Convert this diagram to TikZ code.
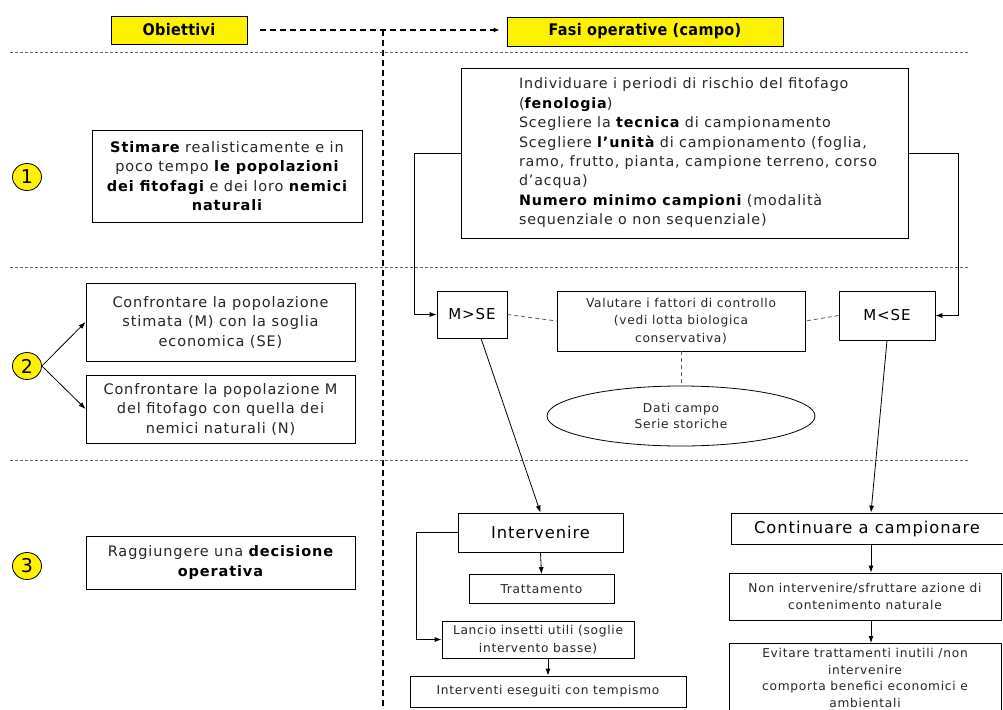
\documentclass[tikz,border=0pt]{standalone}
\usepackage{fontspec}
\setmainfont[LetterSpace=6]{DejaVu Sans}
\newfontfamily\headfont[LetterSpace=2]{DejaVu Sans Condensed}
\usetikzlibrary{arrows.meta,shapes.geometric,calc}
\newcommand{\bk}[1]{{\color{black}\bfseries #1}}
\begin{document}
\begin{tikzpicture}[x=1pt,y=-1pt,
  box/.style={draw=black, line width=0.8pt, rectangle, inner sep=0pt, align=center, text=black!85},
  lt/.style={font=\fontsize{14.5}{19.5}\selectfont},
  sm/.style={font=\fontsize{12.2}{17.5}\selectfont},
  big/.style={font=\fontsize{16.3}{19}\selectfont},
  hdr/.style={draw=black, line width=0.8pt, fill=yellow, inner sep=0pt, font=\headfont\bfseries\fontsize{16}{18}\selectfont},
  num/.style={draw=black, line width=0.8pt, fill=yellow, ellipse, minimum width=29pt, minimum height=27pt, inner sep=0pt, font=\fontsize{19}{20}\selectfont},
  sep/.style={draw=black!60, dash pattern=on 3pt off 2pt, line width=0.8pt},
  arr/.style={draw=black, line width=0.8pt, -{Latex[length=7pt,width=5pt]}},
  dline/.style={draw=black!65, dash pattern=on 4pt off 3pt, line width=0.8pt},
  bigdash/.style={draw=black, line width=1.3pt, dash pattern=on 6pt off 4pt},
]
\useasboundingbox (0,0) rectangle (1003,709);
\fill[white] (0,0) rectangle (1003,709);

% headers
\node[hdr, minimum width=136pt, minimum height=28pt] (obj) at (179,30) {Obiettivi};
\node[hdr, minimum width=276pt, minimum height=29pt] (fasi) at (645,31.5) {Fasi operative (campo)};
\coordinate (ha) at ([xshift=13pt]obj.east);
\coordinate (hb) at ($(obj.east -| fasi.west)+(-7,0)$);
\draw[bigdash, -{Latex[length=6pt,width=5pt]}] (ha) -- (hb);
\coordinate (vt) at (383,30);
\coordinate (vb) at (383,709);
\draw[bigdash] (vt) -- (vb);

% separators
\coordinate (s1a) at (10,52);  \coordinate (s1b) at (970,52);
\coordinate (s2a) at (10,267); \coordinate (s2b) at (970,267);
\coordinate (s3a) at (10,460); \coordinate (s3b) at (970,460);
\draw[sep] (s1a) -- (s1b);
\draw[sep] (s2a) -- (s2b);
\draw[sep] (s3a) -- (s3b);

% numbers
\node[num] (n1) at (27,177) {1};
\node[num] (n2) at (27,366) {2};
\node[num] (n3) at (27,566) {3};

% left column
\node[box, lt, minimum width=270pt, minimum height=92pt] (stim) at (227,176)
  {\bk{Stimare} realisticamente e in\\ poco tempo \bk{le popolazioni}\\ \bk{dei fitofagi} e dei loro \bk{nemici}\\ \bk{naturali}};
\node[box, lt, minimum width=269pt, minimum height=78pt] (conf1) at (220.5,322)
  {Confrontare la popolazione\\ stimata (M) con la soglia\\ economica (SE)};
\node[box, lt, minimum width=269pt, minimum height=68pt] (conf2) at (220.5,409)
  {Confrontare la popolazione M\\ del fitofago con quella dei\\ nemici naturali (N)};
\node[box, lt, minimum width=269pt, minimum height=53pt] (ragg) at (220.5,562.5)
  {Raggiungere una \bk{decisione}\\ \bk{operativa}};
\draw[arr] (n2.east) -- (conf1.west);
\draw[arr] (n2.east) -- (conf2.west);

% main box
\node[box, minimum width=447pt, minimum height=170pt, font=\fontsize{14.3}{19.4}\selectfont] (main) at (684.5,153)
  {\hspace*{42pt}\makebox[373pt][l]{\begin{tabular}{@{}l@{}}
  Individuare i periodi di rischio del fitofago\\
  (\bk{fenologia})\\
  Scegliere la \bk{tecnica} di campionamento\\
  Scegliere \bk{l’unità} di campionamento (foglia,\\
  ramo, frutto, pianta, campione terreno, corso\\
  d’acqua)\\
  \bk{Numero minimo campioni} (modalità\\
  sequenziale o non sequenziale)
  \end{tabular}}};

\node[box, font=\fontsize{15}{17}\selectfont, text=black, minimum width=70pt, minimum height=47pt] (mse1) at (472,314.5) {M>SE};
\node[box, font=\fontsize{15}{17}\selectfont, text=black, minimum width=96pt, minimum height=49pt] (mse2) at (887,315.5) {M<SE};
\node[box, sm, minimum width=248pt, minimum height=60pt] (val) at (681,321)
  {Valutare i fattori di controllo\\ (vedi lotta biologica\\ conservativa)};
\node[draw=black, line width=0.8pt, ellipse, minimum width=268pt, minimum height=60pt, inner sep=0pt, align=center, text=black!85, font=\fontsize{12.2}{16}\selectfont] (ell) at (681,416)
  {Dati campo\\ Serie storiche};

\draw[arr] (main.west) -- ++(-46,0) |- (mse1.west);
\draw[arr] (main.east) -- ++(50,0) |- (mse2.east);
\draw[dline] (mse1.east) -- (val.west);
\draw[dline] (mse2.west) -- (val.east);
\draw[dline] (val.south) -- (ell.north);

% bottom left branch
\node[box, big, text=black, minimum width=165pt, minimum height=39pt] (interv) at (540.5,532.5) {Intervenire};
\node[box, sm, minimum width=145pt, minimum height=29pt] (tratt) at (541.5,589) {Trattamento};
\node[box, sm, minimum width=192pt, minimum height=37pt] (lancio) at (538,639.5)
  {Lancio insetti utili (soglie\\ intervento basse)};
\node[box, sm, minimum width=276pt, minimum height=31pt] (intes) at (548,691.5)
  {Interventi eseguiti con tempismo};
\draw[arr] ([xshift=9pt]mse1.south) -- (interv.north);
\draw[arr] (interv.south) -- (tratt.north);
\draw[arr] (interv.west) -- ++(-41,0) |- (lancio.west);
\draw[arr] ([xshift=10pt]lancio.south) -- ([xshift=10pt]lancio.south |- intes.north);

% bottom right branch
\node[box, big, text=black, minimum width=272pt, minimum height=31pt] (contin) at (867,528.5) {Continuare a campionare};
\node[box, sm, minimum width=272pt, minimum height=47pt] (nonint) at (865,596.5)
  {Non intervenire/sfruttare azione di\\ contenimento naturale};
\node[box, minimum width=272pt, minimum height=69pt, anchor=north, font=\fontsize{12.2}{16.6}\selectfont] (evit) at (865,643)
  {Evitare trattamenti inutili /non\\ intervenire\\ comporta benefici economici e\\ ambientali};
\draw[arr] (mse2.south) -- ([xshift=4pt]contin.north);
\draw[arr] ([xshift=4pt]contin.south) -- ([xshift=4pt]contin.south |- nonint.north);
\draw[arr] ([xshift=6pt]nonint.south) -- ([xshift=6pt]nonint.south |- evit.north);
\end{tikzpicture}
\end{document}
